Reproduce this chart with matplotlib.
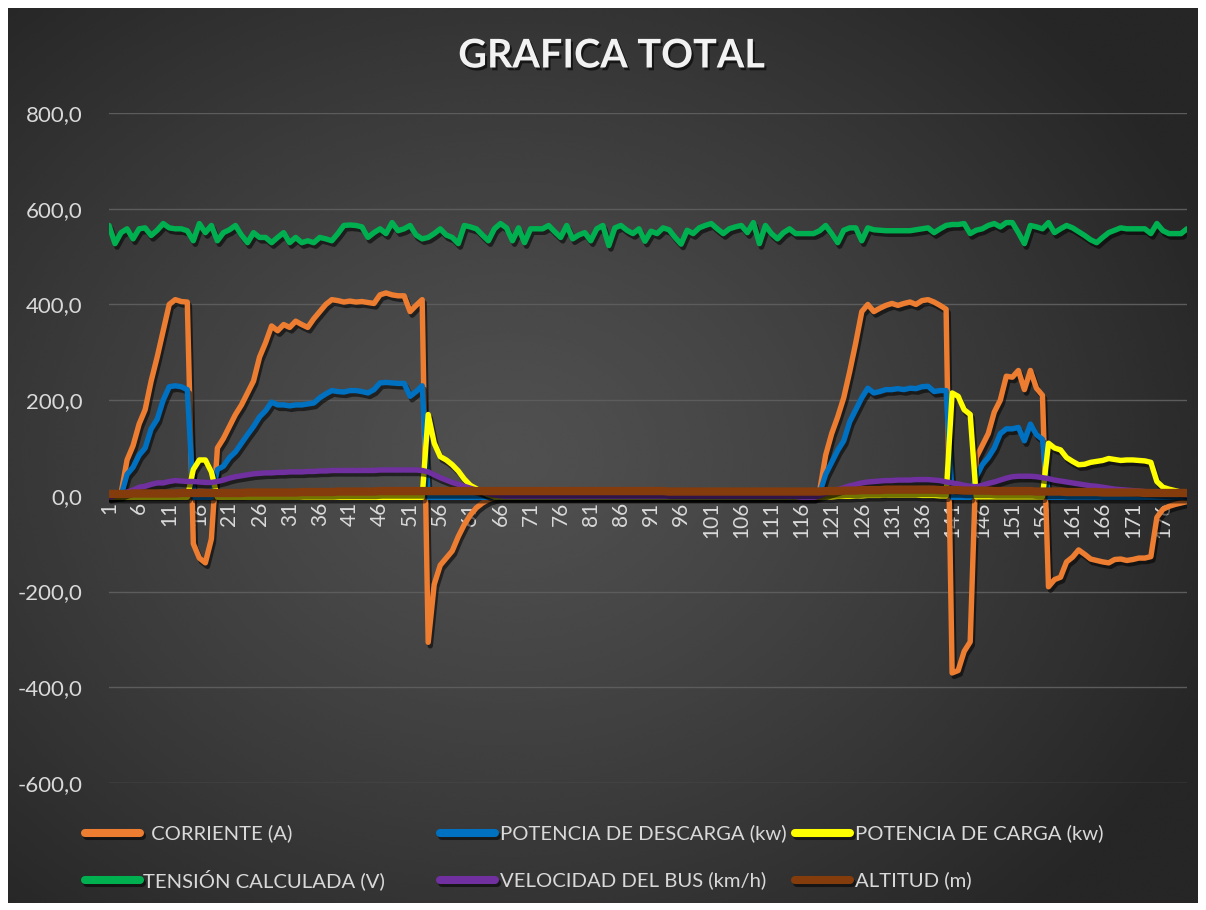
import numpy as np
import matplotlib
matplotlib.use("Agg")
import matplotlib.pyplot as plt
from matplotlib import patheffects as pe
from matplotlib.lines import Line2D

plt.rcParams['font.family'] = ['Lato', 'DejaVu Sans']

# ---------------------------------------------------------------- data
muestras = list(range(1, 181))

corriente = (
    [0, 0, 5, 75, 105, 150, 180, 240, 290, 345, 400, 410, 406, 405,
     -100, -130, -140, -90,
     100, 120, 145, 170, 190, 215, 240, 290, 320, 355, 345, 358, 352, 365,
     358, 352, 370, 385, 400, 410, 408, 405, 407, 405, 406, 404, 402, 420,
     424, 420, 418, 418, 385, 398, 410,
     -306, -185, -145, -130, -115, -85, -60, -40, -25, -15, -8, -4, -2]
    + [0] * 52
    + [10, 85, 130, 165, 205, 260, 320, 385, 400, 385, 392, 398, 402, 398,
       402, 405, 400, 408, 410, 405, 398, 390,
       -370, -365, -325, -305,
       80, 105, 130, 175, 200, 250, 248, 262, 222, 262, 225, 210,
       -190, -175, -170, -138, -128, -113, -122, -132, -135, -138, -140,
       -133, -132, -135, -133, -130, -130, -127, -45, -28, -22, -18, -15, -12]
)

potencia_descarga = (
    [0, 0, 0, 45, 60, 85, 100, 140, 160, 200, 228, 230, 228, 222,
     -3, -3, -3, -3,
     55, 62, 80, 92, 110, 128, 145, 165, 178, 196, 190, 190, 188, 190, 190,
     192, 194, 205, 213, 220, 218, 217, 220, 220, 218, 215, 222, 236, 237,
     236, 235, 235, 208, 218, 230]
    + [-3] * 65
    + [5, 45, 70, 95, 115, 155, 180, 205, 225, 215, 218, 222, 222, 224, 222,
       225, 224, 228, 229, 218, 220, 220,
       -3, -3, -3, -3,
       40, 65, 80, 100, 130, 140, 140, 143, 115, 150, 128, 118]
    + [-3] * 24
)

potencia_carga = (
    [-3] * 14
    + [55, 75, 75, 50]
    + [-3] * 35
    + [170, 110, 82, 75, 65, 52, 35, 22, 15, 8, 2]
    + [-2] * 55
    + [-2, -2, -1, -1, -1, 0, 0, 1, 1, 1, 2, 2, 2, 2, 2, 2, 1, 1, 1, 0, 0]
    + [215, 208, 180, 170]
    + [-2] * 12
    + [110, 100, 96, 80, 72, 65, 66, 70, 72, 74, 78, 76, 74, 75, 75, 74, 73,
       70, 30, 18, 14, 11, 8, 5]
)

tension = [
    565, 527, 550, 558, 537, 558, 560, 544, 555, 569, 560, 558, 558, 554, 533,
    569, 550, 565, 533, 550, 556, 565, 545, 529, 550, 540, 540, 529, 540, 550,
    529, 540, 529, 533, 529, 540, 537, 533, 548, 565, 566, 565, 562, 540, 550,
    558, 548, 571, 554, 558, 565, 545, 537, 540, 548, 558, 545, 540, 527, 565,
    562, 558, 545, 533, 558, 569, 560, 533, 560, 529, 558, 558, 558, 565, 552,
    540, 565, 537, 545, 550, 533, 558, 565, 523, 560, 565, 555, 548, 558, 532,
    553, 548, 560, 556, 540, 526, 555, 548, 560, 565, 569, 558, 548, 558, 562,
    565, 550, 571, 527, 565, 548, 537, 550, 558, 548, 548, 548, 548, 554, 565,
    548, 529, 555, 560, 560, 533, 560, 556, 555, 554, 554, 554, 554, 554, 556,
    558, 560, 550, 558, 565, 567, 567, 569, 548, 555, 558, 565, 569, 562, 571,
    571, 550, 527, 565, 562, 558, 571, 550, 558, 565, 560, 552, 544, 535, 529,
    540, 550, 555, 560, 558, 558, 558, 558, 548, 569, 554, 548, 548, 548, 558,
]

velocidad = (
    [-3, 0, 3, 8, 12, 18, 20, 24, 27, 27, 30, 32, 31, 30, 30, 29, 28, 28, 30,
     33, 37, 40, 42, 44, 46, 47, 48, 48, 49, 49, 50, 50, 50, 51, 51, 52, 52,
     53, 53, 53, 53, 53, 53, 53, 53, 54, 54, 54, 54, 54, 54, 54, 53, 50, 44,
     38, 33, 28, 24, 20, 16, 12, 8, 5, 2, 0]
    + [-1] * 49
    + [-3, -3, -3]
    + [0, 5, 9, 13, 17, 21, 24, 27, 29, 30, 31, 32, 32, 33, 33, 33, 34, 34,
       34, 33, 32, 29, 27, 25, 22, 20, 19, 22, 26, 29, 33, 37, 40, 41, 41, 41,
       40, 38, 36, 33, 31, 29, 27, 25, 23, 21, 20, 18, 16, 14, 13, 12, 11, 10,
       9, 8, 7, 6, 5, 4, 3, 2]
)

altitud = [
    4, 4, 4, 4, 5, 5, 5, 5, 5, 5, 5, 5, 6, 6, 6, 6, 6, 6, 6, 6,
    6, 6, 6, 7, 7, 7, 7, 7, 7, 7, 7, 7, 8, 8, 8, 8, 8, 8, 9, 9,
    9, 9, 9, 9, 9, 10, 10, 10, 10, 10, 10, 10, 10, 10, 10, 10, 10, 10, 10, 10,
    10, 10, 10, 10, 10, 10, 10, 10, 10, 10, 10, 10, 10, 10, 10, 10, 10, 10, 10, 10,
    10, 10, 10, 10, 10, 10, 10, 10, 10, 10, 10, 10, 10, 9, 9, 9, 9, 9, 9, 9,
    9, 9, 9, 9, 9, 9, 9, 9, 9, 9, 9, 9, 9, 9, 9, 9, 9, 9, 9, 10,
    10, 10, 11, 11, 11, 12, 12, 12, 12, 13, 13, 13, 13, 13, 13, 13, 13, 13, 12, 12,
    12, 12, 11, 11, 11, 11, 11, 10, 10, 10, 10, 10, 10, 10, 9, 9, 9, 9, 9, 8,
    8, 8, 8, 8, 8, 7, 7, 7, 7, 7, 7, 7, 6, 6, 6, 6, 6, 6, 6, 6,
]

series = [
    (" CORRIENTE (A)", corriente, "#ED7D31"),
    ("POTENCIA DE DESCARGA (kw)", potencia_descarga, "#0070C0"),
    ("POTENCIA DE CARGA (kw)", potencia_carga, "#FFFF00"),
    ("TENSIÓN CALCULADA (V)", tension, "#00B050"),
    ("VELOCIDAD DEL BUS (km/h)", velocidad, "#7030A0"),
    ("ALTITUD (m)", altitud, "#843C0C"),
]

y_ticks = [-600, -400, -200, 0, 200, 400, 600, 800]
x_tick_labels = list(range(1, 177, 5))

# ---------------------------------------------------------------- figure
W, H = 1206, 910
fig = plt.figure(figsize=(W / 100, H / 100), dpi=100, facecolor="white")

# dark radial-gradient chart panel
bg = fig.add_axes([8 / W, 1 - 903 / H, 1190 / W, 895 / H])
ny, nx = 360, 480
yy, xx = np.mgrid[0:ny, 0:nx]
cx, cy = nx * 0.42, ny * 0.50
r = np.hypot((xx - cx) / (nx * 0.64), (yy - cy) / (ny * 0.70))
shade = (0x50 - (0x50 - 0x26) * np.clip(r, 0, 1) ** 1.25) / 255.0
bg.imshow(shade, cmap="gray", vmin=0, vmax=1, aspect="auto",
          interpolation="bicubic", extent=[0, 1, 0, 1])
bg.axis("off")

ax = fig.add_axes([109 / W, 1 - 783 / H, 1078 / W, 670 / H])
ax.set_facecolor("none")
ax.set_xlim(1, 180)
ax.set_ylim(-600, 800)

for yv in y_ticks:
    ax.axhline(yv, color="#5c5c5c", lw=1.0, zorder=0)

shadow = [pe.SimpleLineShadow(offset=(1.5, -2.5), shadow_color="black", alpha=0.55),
          pe.Normal()]

for name, vals, col in series:
    lw = 6.0 if name.startswith("ALTITUD") else 3.9
    ax.plot(muestras, vals, color=col, lw=lw, solid_joinstyle="round",
            solid_capstyle="round", path_effects=shadow, zorder=3)

for s in ["top", "right", "left"]:
    ax.spines[s].set_visible(False)
ax.spines["bottom"].set_position(("data", 0))
ax.spines["bottom"].set_color("none")

ax.set_yticks(y_ticks)
ax.set_yticklabels([f"{v:.1f}".replace(".", ",") for v in y_ticks])
ax.set_xticks(x_tick_labels)
ax.set_xticklabels([str(v) for v in x_tick_labels], rotation=90)
ax.tick_params(axis="y", length=0, pad=19, labelsize=16, labelcolor="#d9d9d9")
ax.tick_params(axis="x", length=0, pad=4, labelsize=15, labelcolor="#d9d9d9")

# title
fig.text(612 / W, 1 - 56 / H, "GRAFICA TOTAL", fontsize=28.5, fontweight="bold",
         color="#f2f2f2", ha="center", va="center",
         path_effects=[pe.SimplePatchShadow(offset=(1.5, -2), shadow_rgbFace="black",
                                            alpha=0.6), pe.Normal()])

# legend
legend_pos = [(85, 833), (440, 833), (795, 833), (85, 880), (440, 880), (795, 880)]
text_x = [146, 500, 855, 143, 500, 855]
for (name, vals, col), (lx, ly), tx in zip(series, legend_pos, text_x):
    yf = 1 - ly / H
    fig.add_artist(Line2D([lx / W, (lx + 55) / W], [yf, yf], color=col, lw=5.8,
                          solid_capstyle="round", transform=fig.transFigure,
                          path_effects=shadow))
    fig.text(tx / W, yf, name, fontsize=14.6, color="#d9d9d9", ha="left", va="center")

fig.savefig("out.png", dpi=100, facecolor="white")
